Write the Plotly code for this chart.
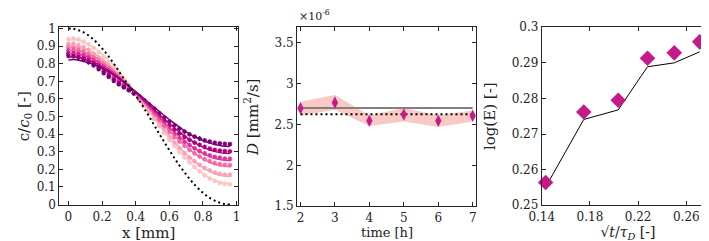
import plotly.graph_objects as go

# ---------------- Panel 1: concentration profiles ----------------
x_prof = [0.00, 0.03, 0.06, 0.09, 0.12, 0.15, 0.18, 0.21, 0.24, 0.27, 0.30, 0.33,
          0.36, 0.39, 0.42, 0.45, 0.48, 0.51, 0.54, 0.57, 0.60, 0.63, 0.66, 0.69,
          0.72, 0.75, 0.78, 0.81, 0.84, 0.87, 0.90, 0.93, 0.96]

c_initial = [1.000, 0.998, 0.990, 0.978, 0.960, 0.937, 0.908, 0.876, 0.840, 0.800, 0.757, 0.713,
             0.673, 0.633, 0.592, 0.547, 0.500, 0.451, 0.402, 0.355, 0.309, 0.264, 0.222, 0.183,
             0.146, 0.113, 0.084, 0.059, 0.038, 0.022, 0.010, 0.002, 0.000]

data_2h = [0.940, 0.944, 0.938, 0.925, 0.910, 0.890, 0.865, 0.838, 0.809, 0.777, 0.745, 0.712,
           0.678, 0.643, 0.605, 0.566, 0.526, 0.486, 0.446, 0.406, 0.368, 0.333, 0.298, 0.268,
           0.239, 0.213, 0.188, 0.166, 0.148, 0.134, 0.123, 0.117, 0.115]
data_3h = [0.912, 0.914, 0.906, 0.894, 0.878, 0.857, 0.834, 0.807, 0.779, 0.750, 0.721, 0.691,
           0.662, 0.631, 0.598, 0.563, 0.527, 0.490, 0.453, 0.417, 0.383, 0.350, 0.320, 0.292,
           0.267, 0.245, 0.225, 0.208, 0.194, 0.182, 0.174, 0.170, 0.168]
data_4h = [0.894, 0.891, 0.884, 0.872, 0.856, 0.837, 0.814, 0.790, 0.763, 0.736, 0.710, 0.684,
           0.660, 0.633, 0.604, 0.573, 0.541, 0.508, 0.475, 0.443, 0.412, 0.383, 0.357, 0.333,
           0.310, 0.291, 0.273, 0.258, 0.246, 0.236, 0.229, 0.226, 0.224]
data_5h = [0.876, 0.873, 0.865, 0.853, 0.839, 0.819, 0.798, 0.773, 0.749, 0.723, 0.699, 0.677,
           0.654, 0.631, 0.605, 0.577, 0.547, 0.517, 0.487, 0.456, 0.428, 0.402, 0.378, 0.356,
           0.337, 0.319, 0.303, 0.291, 0.279, 0.271, 0.266, 0.261, 0.260]
data_6h = [0.858, 0.855, 0.848, 0.835, 0.821, 0.803, 0.781, 0.758, 0.735, 0.711, 0.689, 0.670,
           0.650, 0.631, 0.608, 0.583, 0.556, 0.529, 0.501, 0.474, 0.449, 0.425, 0.404, 0.385,
           0.367, 0.352, 0.339, 0.327, 0.318, 0.311, 0.306, 0.303, 0.302]
data_7h = [0.845, 0.842, 0.834, 0.822, 0.808, 0.790, 0.769, 0.747, 0.725, 0.703, 0.683, 0.666,
           0.650, 0.633, 0.614, 0.592, 0.568, 0.543, 0.518, 0.493, 0.471, 0.450, 0.431, 0.414,
           0.399, 0.386, 0.375, 0.365, 0.357, 0.351, 0.347, 0.344, 0.343]

model_2h = [0.932, 0.938, 0.932, 0.922, 0.909, 0.892, 0.871, 0.847, 0.820, 0.790, 0.758, 0.723,
            0.687, 0.649, 0.610, 0.570, 0.530, 0.490, 0.450, 0.411, 0.373, 0.337, 0.302, 0.270,
            0.240, 0.213, 0.189, 0.168, 0.151, 0.138, 0.128, 0.122, 0.120]
model_3h = [0.899, 0.903, 0.898, 0.889, 0.877, 0.861, 0.842, 0.820, 0.796, 0.769, 0.740, 0.708,
            0.675, 0.641, 0.605, 0.569, 0.533, 0.496, 0.460, 0.424, 0.390, 0.357, 0.325, 0.296,
            0.269, 0.245, 0.223, 0.204, 0.189, 0.176, 0.167, 0.162, 0.160]
model_4h = [0.875, 0.878, 0.874, 0.866, 0.855, 0.841, 0.824, 0.805, 0.783, 0.758, 0.732, 0.704,
            0.675, 0.644, 0.612, 0.580, 0.548, 0.515, 0.483, 0.451, 0.420, 0.391, 0.363, 0.337,
            0.312, 0.291, 0.271, 0.254, 0.240, 0.229, 0.221, 0.217, 0.215]
model_5h = [0.856, 0.859, 0.854, 0.847, 0.837, 0.824, 0.809, 0.791, 0.771, 0.749, 0.725, 0.699,
            0.672, 0.644, 0.615, 0.585, 0.555, 0.525, 0.496, 0.466, 0.438, 0.411, 0.385, 0.361,
            0.339, 0.319, 0.301, 0.286, 0.273, 0.263, 0.256, 0.251, 0.250]
model_6h = [0.836, 0.839, 0.835, 0.828, 0.819, 0.808, 0.794, 0.778, 0.760, 0.740, 0.718, 0.695,
            0.670, 0.645, 0.619, 0.592, 0.565, 0.538, 0.511, 0.485, 0.460, 0.435, 0.412, 0.390,
            0.370, 0.352, 0.336, 0.322, 0.311, 0.302, 0.295, 0.291, 0.290]
model_7h = [0.821, 0.824, 0.820, 0.814, 0.806, 0.796, 0.783, 0.769, 0.753, 0.735, 0.715, 0.694,
            0.672, 0.649, 0.626, 0.602, 0.578, 0.553, 0.529, 0.505, 0.483, 0.461, 0.440, 0.420,
            0.402, 0.386, 0.372, 0.359, 0.349, 0.341, 0.335, 0.331, 0.330]

profile_colors = ["#fcc5c0", "#fa9fb5", "#f768a1", "#dd3497", "#ae017e", "#7a0177"]

# ---------------- Panel 2: diffusion coefficient vs time ----------------
time_h = [2, 3, 4, 5, 6, 7]
D_est = [2.699, 2.767, 2.545, 2.622, 2.545, 2.607]
D_upper = [2.779, 2.862, 2.614, 2.702, 2.614, 2.671]
D_lower = [2.607, 2.679, 2.481, 2.538, 2.470, 2.538]
D_fit = 2.702
D_ref = 2.625

# ---------------- Panel 3: log(E) vs sqrt(t/tau_D) ----------------
sqrt_t = [0.1432, 0.1749, 0.2035, 0.2278, 0.2500, 0.2711]
logE_data = [0.2564, 0.2762, 0.2795, 0.2913, 0.2928, 0.2959]
logE_model = [0.2551, 0.2741, 0.2768, 0.2889, 0.2900, 0.2931]

FONT = "DejaVu Serif, Liberation Serif, serif"
AX = "#262626"
MAG = "#c51b8a"

fig = go.Figure()

# panel 1
for d, col in zip([data_2h, data_3h, data_4h, data_5h, data_6h, data_7h], profile_colors):
    fig.add_trace(go.Scatter(x=x_prof, y=d, mode="markers", xaxis="x", yaxis="y",
                             marker=dict(symbol="asterisk-open", size=4, color=col,
                                         line=dict(color=col, width=1.2)),
                             showlegend=False, cliponaxis=False))
for m, col in zip([model_2h, model_3h, model_4h, model_5h, model_6h, model_7h], profile_colors):
    fig.add_trace(go.Scatter(x=x_prof, y=m, mode="lines", xaxis="x", yaxis="y",
                             line=dict(color=col, width=1.5, shape="spline"),
                             showlegend=False))
fig.add_trace(go.Scatter(x=x_prof, y=c_initial, mode="lines", xaxis="x", yaxis="y",
                         line=dict(color="black", width=2, dash="2px,3px", shape="spline"),
                         showlegend=False))

# panel 2
fig.add_trace(go.Scatter(x=time_h, y=D_lower, mode="lines", xaxis="x2", yaxis="y2",
                         line=dict(width=0, color="rgba(0,0,0,0)"), showlegend=False))
fig.add_trace(go.Scatter(x=time_h, y=D_upper, mode="lines", xaxis="x2", yaxis="y2",
                         line=dict(width=0, color="rgba(0,0,0,0)"), fill="tonexty",
                         fillcolor="#f9c9c3", showlegend=False))
fig.add_trace(go.Scatter(x=[time_h[0], time_h[-1]], y=[D_fit, D_fit], mode="lines",
                         xaxis="x2", yaxis="y2", line=dict(color="#808080", width=2),
                         showlegend=False))
fig.add_trace(go.Scatter(x=[time_h[0], time_h[-1]], y=[D_ref, D_ref], mode="lines",
                         xaxis="x2", yaxis="y2",
                         line=dict(color="black", width=2, dash="2px,3px"), showlegend=False))
fig.add_trace(go.Scatter(x=time_h, y=D_est, mode="markers", xaxis="x2", yaxis="y2",
                         marker=dict(symbol="diamond-tall", size=9, color=MAG),
                         showlegend=False, cliponaxis=False))

# panel 3
fig.add_trace(go.Scatter(x=sqrt_t, y=logE_model, mode="lines", xaxis="x3", yaxis="y3",
                         line=dict(color="black", width=1), showlegend=False))
fig.add_trace(go.Scatter(x=sqrt_t, y=logE_data, mode="markers", xaxis="x3", yaxis="y3",
                         marker=dict(symbol="diamond", size=12, color=MAG),
                         showlegend=False, cliponaxis=False))


def ax(**kw):
    base = dict(showgrid=False, zeroline=False, showline=True, linecolor=AX, linewidth=1,
                mirror="ticks", ticks="inside", ticklen=4, tickcolor=AX,
                tickfont=dict(family=FONT, size=12, color="#222"))
    base.update(kw)
    return base


TF = dict(family=FONT, size=15, color="#222")
H = 241.0
W = 709.0

fig.update_layout(
    width=709, height=241, margin=dict(l=0, r=0, t=0, b=0),
    paper_bgcolor="white", plot_bgcolor="white",
    xaxis=ax(domain=[39 / W, 222 / W], range=[-0.055, 1.01], anchor="y",
             tickvals=[0, 0.2, 0.4, 0.6, 0.8, 1], ticktext=["0", "0.2", "0.4", "0.6", "0.8", "1"],
             title=dict(text="x [mm]", font=TF, standoff=1)),
    yaxis=ax(domain=[1 - 202 / H, 1 - 13 / H], range=[-0.004, 1.007], anchor="x",
             tickvals=[0, 0.1, 0.2, 0.3, 0.4, 0.5, 0.6, 0.7, 0.8, 0.9, 1],
             ticktext=["0", "0.1", "0.2", "0.3", "0.4", "0.5", "0.6", "0.7", "0.8", "0.9", "1"],
             title=dict(text="c/<i>c</i><sub>0</sub> [-]", font=TF, standoff=3)),
    xaxis2=ax(domain=[282 / W, 465 / W], range=[1.9, 7.1], anchor="y2",
              tickvals=[2, 3, 4, 5, 6, 7]),
    yaxis2=ax(domain=[1 - 203 / H, 1 - 13 / H], range=[1.5, 3.69], anchor="x2",
              tickvals=[1.5, 2, 2.5, 3, 3.5], ticktext=["1.5", "2", "2.5", "3", "3.5"],
              title=dict(text="<i>D</i> [mm<sup>2</sup>/s]", font=TF, standoff=12)),
    xaxis3=ax(domain=[532 / W, 708 / W], range=[0.14, 0.283], anchor="y3",
              tickvals=[0.14, 0.18, 0.22, 0.26], ticktext=["0.14", "0.18", "0.22", "0.26"],
              title=dict(text="√<i>t</i>/<i>τ<sub>D</sub></i> [-]",
                         font=dict(family=FONT, size=14, color="#222"), standoff=0)),
    yaxis3=ax(domain=[1 - 202 / H, 1 - 13 / H], range=[0.25, 0.3], anchor="x3",
              tickvals=[0.25, 0.26, 0.27, 0.28, 0.29, 0.3],
              ticktext=["0.25", "0.26", "0.27", "0.28", "0.29", "0.3"],
              title=dict(text="log(E) [-]", font=TF, standoff=12)),
    annotations=[
        dict(text="×10<sup>-6</sup>", x=282 / W, y=1 - 11 / H, xref="paper", yref="paper",
             xanchor="left", yanchor="bottom", showarrow=False,
             font=dict(family=FONT, size=11, color="#222")),
        dict(text="time [h]", x=373.5 / W, y=0, xref="paper", yref="paper",
             xanchor="center", yanchor="bottom", showarrow=False,
             font=dict(family=FONT, size=13, color="#222")),
    ],
)

fig.write_html("out.html")
